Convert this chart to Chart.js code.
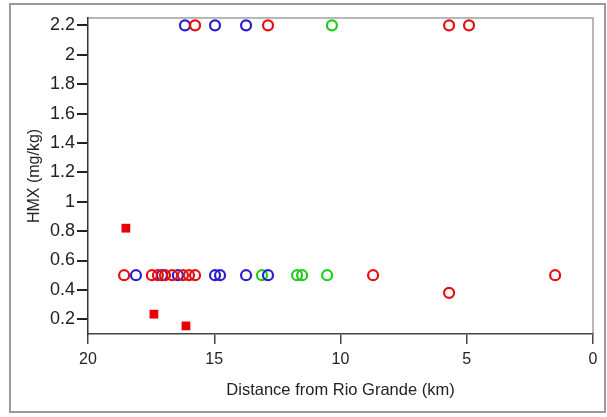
<!DOCTYPE html>
<html>
<head>
<meta charset="utf-8">
<script src="https://cdn.jsdelivr.net/npm/chart.js@4/dist/chart.umd.min.js"></script>
<style>
  html, body { margin: 0; padding: 0; background: #fff; }
  #wrap { position: relative; width: 607px; height: 417px; }
</style>
</head>
<body>
<div id="wrap"><canvas id="chart" width="607" height="417"></canvas></div>
<script>
// distances (km) and HMX (mg/kg)
const redX   = [15.76, 12.87, 5.7, 4.91, 18.57, 17.47, 17.23, 16.95, 16.67, 16.24, 16.0, 15.76, 8.71, 1.5, 5.7]
const redY   = [2.2, 2.2, 2.2, 2.2, 0.5, 0.5, 0.5, 0.5, 0.5, 0.5, 0.5, 0.5, 0.5, 0.5, 0.38]
const blueX  = [16.16, 14.97, 13.74, 18.1, 17.07, 16.44, 14.97, 14.77, 13.74, 12.87]
const blueY  = [2.2, 2.2, 2.2, 0.5, 0.5, 0.5, 0.5, 0.5, 0.5, 0.5]
const greenX = [10.34, 13.11, 11.72, 11.52, 10.53]
const greenY = [2.2, 0.5, 0.5, 0.5, 0.5]
const squareX = [18.5, 17.39, 16.12]
const squareY = [0.82, 0.235, 0.155]

const yTicks = [0.2, 0.4, 0.6, 0.8, 1, 1.2, 1.4, 1.6, 1.8, 2, 2.2]
const xTicks = [20, 15, 10, 5, 0]

const pts = (xs, ys) => xs.map((x, i) => ({ x, y: ys[i] }))

const tickFont = { family: 'Arial, "Liberation Sans", sans-serif', size: 16 }
const yTickFont = { family: 'Arial, "Liberation Sans", sans-serif', size: 18 }

// outer frame + top/right plot border
const frame = {
  id: 'frame',
  beforeDraw(chart) {
    const { ctx, chartArea: a } = chart
    ctx.save()
    ctx.strokeStyle = '#9a9a9a'
    ctx.lineWidth = 2
    ctx.strokeRect(10, 4, 595, 408)
    ctx.strokeStyle = '#a0a0a0'
    ctx.lineWidth = 1.5
    ctx.beginPath()
    ctx.moveTo(a.left, a.top)
    ctx.lineTo(a.right, a.top)
    ctx.lineTo(a.right, a.bottom)
    ctx.stroke()
    ctx.restore()
  }
}

const circle = (color) => ({
  pointStyle: 'circle',
  pointRadius: 5,
  pointBorderWidth: 2.2,
  pointBorderColor: color,
  pointBackgroundColor: 'rgba(0,0,0,0)',
  showLine: false
})

new Chart(document.getElementById('chart'), {
  type: 'scatter',
  data: {
    datasets: [
      { label: 'red', data: pts(redX, redY), ...circle('#e61010') },
      { label: 'blue', data: pts(blueX, blueY), ...circle('#2b1fd0') },
      { label: 'green', data: pts(greenX, greenY), ...circle('#1fcc1f') },
      {
        label: 'squares', data: pts(squareX, squareY),
        pointStyle: 'rect', pointRadius: 6.2, pointBorderWidth: 0,
        pointBackgroundColor: '#e80000', pointBorderColor: '#e80000'
      }
    ]
  },
  options: {
    responsive: false,
    animation: false,
    layout: { padding: { left: 0, top: 18, right: 14, bottom: 0 } },
    plugins: { legend: { display: false }, tooltip: { enabled: false } },
    scales: {
      x: {
        type: 'linear',
        reverse: true,
        min: 0,
        max: 20,
        afterBuildTicks: (s) => { s.ticks = xTicks.map(v => ({ value: v })) },
        afterFit: (s) => { s.height = 83 },
        border: { display: true, color: '#444', width: 1.5 },
        grid: { drawOnChartArea: false, drawTicks: true, tickLength: 10, color: '#444', lineWidth: 1.5 },
        ticks: { color: '#222', font: tickFont, padding: 6, maxRotation: 0 },
        title: {
          display: true,
          text: 'Distance from Rio Grande (km)',
          color: '#222',
          font: { family: tickFont.family, size: 16.5 },
          padding: { top: 4, bottom: 17 }
        }
      },
      y: {
        type: 'linear',
        min: 0.1,
        max: 2.25,
        afterBuildTicks: (s) => { s.ticks = yTicks.map(v => ({ value: v })) },
        afterFit: (s) => { s.width = 88 },
        border: { display: true, color: '#333', width: 1.5 },
        grid: { drawOnChartArea: false, drawTicks: true, tickLength: 11, color: '#222', lineWidth: 2 },
        ticks: {
          color: '#222', font: yTickFont, padding: 2,
          callback: (v) => String(Number(v.toFixed(1)))
        },
        title: {
          display: true,
          text: 'HMX (mg/kg)',
          color: '#222',
          font: tickFont,
          padding: { top: 25, bottom: 4 }
        }
      }
    }
  },
  plugins: [frame]
})
</script>
</body>
</html>
